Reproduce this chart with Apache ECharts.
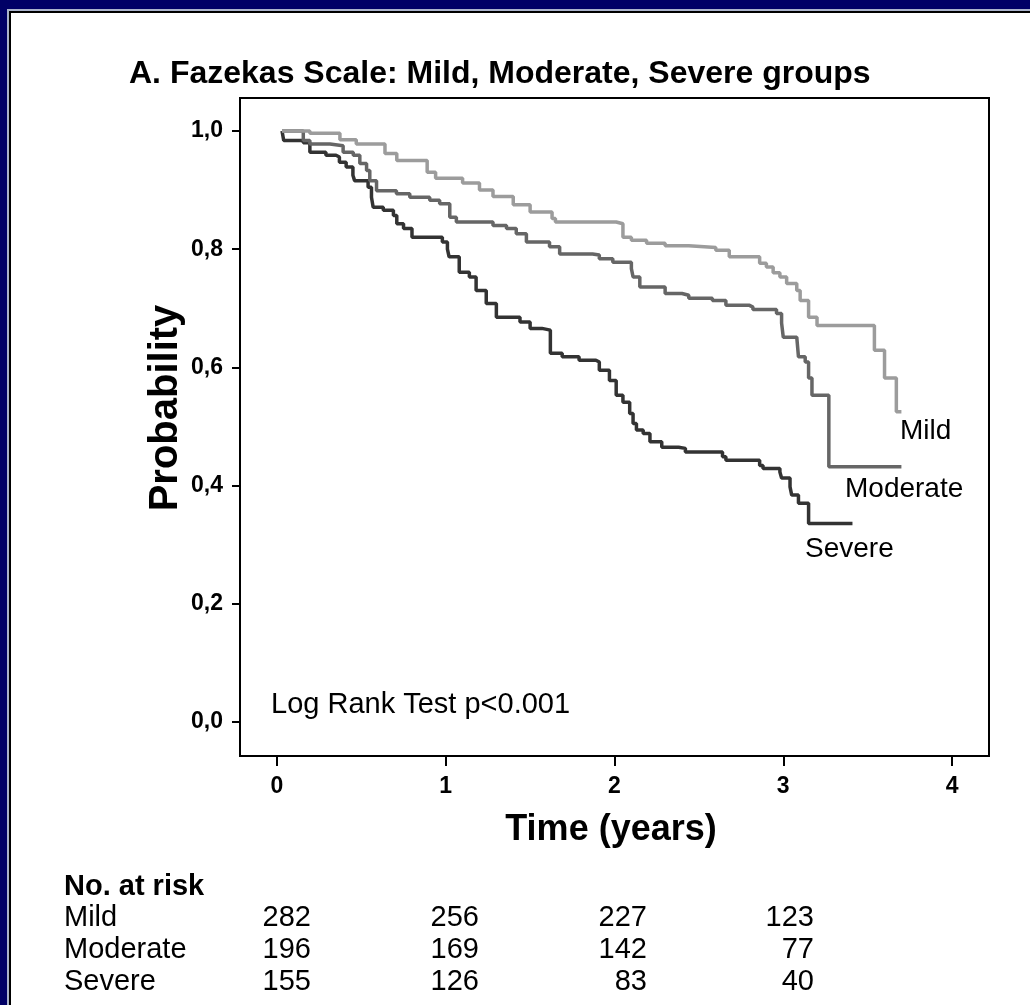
<!DOCTYPE html>
<html><head><meta charset="utf-8">
<script src="https://cdn.jsdelivr.net/npm/echarts@6/dist/echarts.min.js"></script>
<style>
html,body{margin:0;padding:0;width:1030px;height:1005px;overflow:hidden;background:#000066;}
#f1{position:absolute;left:7px;top:9px;right:0;bottom:0;background:#aab3cc;}
#f2{position:absolute;left:9px;top:11px;right:0;bottom:0;background:#000;}
#f3{position:absolute;left:11px;top:13px;right:0;bottom:0;background:#fff;}
#chart{position:absolute;left:0;top:0;width:1030px;height:1005px;}
</style></head><body>
<div id="f1"></div><div id="f2"></div><div id="f3"></div>
<div id="chart"></div>
<script>
// ---- data (Kaplan-Meier step points: time in years, survival probability) ----
const mildT = [0.03,0.195,0.373,0.47,0.64,0.71,0.89,0.94,1.1,1.2,1.28,1.4,1.5,1.63,1.65,2.01,2.05,2.1,2.19,2.3,2.44,2.6,2.68,2.86,2.9,2.94,2.98,3.02,3.08,3.1,3.15,3.2,3.54,3.6,3.67,3.70];
const mildS = [1.0,0.996,0.985,0.978,0.962,0.95,0.93,0.92,0.912,0.9,0.889,0.875,0.863,0.852,0.846,0.843,0.82,0.815,0.81,0.806,0.803,0.798,0.787,0.776,0.77,0.76,0.753,0.742,0.73,0.713,0.685,0.671,0.629,0.582,0.525,0.525];
const modT = [0.03,0.156,0.195,0.314,0.392,0.452,0.491,0.531,0.55,0.59,0.708,0.787,0.905,0.964,1.024,1.063,1.28,1.36,1.418,1.478,1.615,1.675,1.87,1.91,1.99,2.1,2.11,2.15,2.3,2.4,2.44,2.58,2.66,2.8,2.82,2.96,2.99,3.0,3.08,3.09,3.13,3.15,3.17,3.27,3.70];
const modS = [1.0,0.984,0.978,0.975,0.964,0.959,0.945,0.933,0.916,0.899,0.894,0.888,0.883,0.877,0.854,0.846,0.84,0.835,0.826,0.812,0.804,0.792,0.79,0.784,0.778,0.767,0.753,0.736,0.725,0.722,0.717,0.713,0.705,0.702,0.698,0.691,0.675,0.651,0.649,0.618,0.609,0.582,0.553,0.432,0.432];
const sevT = [0.03,0.04,0.156,0.195,0.29,0.35,0.37,0.41,0.45,0.46,0.54,0.56,0.57,0.63,0.69,0.71,0.75,0.8,0.98,1.01,1.02,1.08,1.14,1.18,1.24,1.3,1.44,1.5,1.57,1.62,1.69,1.79,1.89,1.91,1.97,2.01,2.05,2.09,2.11,2.13,2.17,2.21,2.28,2.38,2.42,2.64,2.66,2.86,2.88,2.98,2.99,3.04,3.05,3.09,3.15,3.41];
const sevS = [1.0,0.984,0.98,0.964,0.959,0.956,0.947,0.939,0.925,0.916,0.905,0.888,0.871,0.866,0.857,0.843,0.835,0.82,0.812,0.8,0.787,0.761,0.753,0.73,0.708,0.685,0.677,0.666,0.663,0.624,0.618,0.612,0.609,0.595,0.578,0.553,0.541,0.522,0.505,0.494,0.488,0.474,0.465,0.463,0.457,0.449,0.443,0.434,0.429,0.423,0.413,0.398,0.384,0.37,0.336,0.336];

const groups = ['Mild','Moderate','Severe'];
const xTicks = [0,1,2,3,4];
const yTicks = [0,0.2,0.4,0.6,0.8,1.0];
const riskTimes = [0,1,2,3];
const riskMild = [282,256,227,123];
const riskModerate = [196,169,142,77];
const riskSevere = [155,126,83,40];

const titleText = 'A. Fazekas Scale: Mild, Moderate, Severe groups';
const yName = 'Probability';
const xName = 'Time (years)';
const testText = 'Log Rank Test p<0.001';
const riskHeader = 'No. at risk';

// ---- build ----
const zip = (t, s) => t.map((v, i) => [v, s[i]]);
const FONT = '"Liberation Sans", Arial, sans-serif';
const colors = ['#9c9c9c', '#666666', '#333333'];

const chart = echarts.init(document.getElementById('chart'), null, {renderer: 'canvas'});

const series = [[mildT, mildS], [modT, modS], [sevT, sevS]].map((d, i) => ({
  name: groups[i],
  type: 'line',
  step: 'end',
  showSymbol: false,
  data: zip(d[0], d[1]),
  lineStyle: {width: 3.5, color: colors[i]},
  itemStyle: {color: colors[i]},
  z: 3 + (2 - i),
  animation: false
}));

const txt = (x, y, text, font, align, valign, extra) => Object.assign({
  type: 'text', x: x, y: y,
  style: {text: text, font: font, fill: '#000', textAlign: align || 'left', textVerticalAlign: valign || 'middle'}
}, extra || {});

const graphics = [
  txt(129, 74, titleText, 'bold 32px ' + FONT),
  txt(166, 408, yName, 'bold 40px ' + FONT, 'center', 'middle', {rotation: Math.PI / 2}),
  txt(611, 830, xName, 'bold 36px ' + FONT, 'center'),
  txt(271, 705, testText, '29px ' + FONT),
  txt(900, 431, groups[0], '28px ' + FONT),
  txt(845, 489, groups[1], '28px ' + FONT),
  txt(805, 549, groups[2], '28px ' + FONT),
  txt(64, 887, riskHeader, 'bold 29px ' + FONT)
];
const riskRows = [riskMild, riskModerate, riskSevere];
const rowY = [918, 950, 982];
const colRight = [311, 479, 647, 814];
riskRows.forEach((row, r) => {
  graphics.push(txt(64, rowY[r], groups[r], '29px ' + FONT));
  row.forEach((v, c) => graphics.push(txt(colRight[c], rowY[r], String(v), '29px ' + FONT, 'right')));
});

chart.setOption({
  animation: false,
  backgroundColor: 'transparent',
  grid: {left: 240, top: 98, width: 749, height: 658, show: true, borderColor: '#000', borderWidth: 2, backgroundColor: 'transparent'},
  xAxis: {
    type: 'value', min: -0.219, max: 4.219,
    axisLine: {show: true, onZero: false, lineStyle: {color: '#000', width: 2}},
    axisTick: {show: true, length: 10, inside: false, customValues: xTicks, lineStyle: {color: '#000', width: 2}},
    axisLabel: {customValues: xTicks, color: '#000', fontWeight: 'bold', fontSize: 23, fontFamily: FONT, margin: 19},
    splitLine: {show: false}
  },
  yAxis: {
    type: 'value', min: -0.0575, max: 1.0558,
    axisLine: {show: true, onZero: false, lineStyle: {color: '#000', width: 2}},
    axisTick: {show: true, length: 8, inside: false, customValues: yTicks, lineStyle: {color: '#000', width: 2}},
    axisLabel: {customValues: yTicks, color: '#000', fontWeight: 'bold', fontSize: 23, fontFamily: FONT, margin: 17,
      formatter: v => v.toFixed(1).replace('.', ',')},
    splitLine: {show: false}
  },
  series: series,
  graphic: graphics
});
</script>
</body></html>
